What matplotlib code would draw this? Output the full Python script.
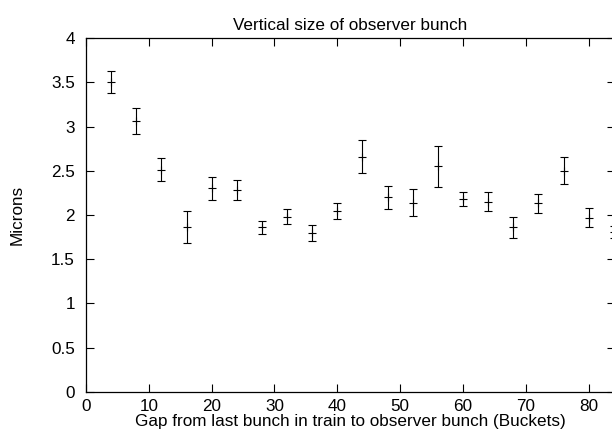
import matplotlib
matplotlib.use("Agg")
import matplotlib.pyplot as plt

# gap from last bunch (buckets) and vertical size (microns) with errors
gap = [4, 8, 12, 16, 20, 24, 28, 32, 36, 40, 44, 48, 52, 56, 60, 64, 68, 72, 76, 80, 84]
size = [3.50, 3.06, 2.51, 1.86, 2.30, 2.28, 1.86, 1.98, 1.80, 2.05, 2.66, 2.20, 2.14, 2.55,
        2.18, 2.15, 1.86, 2.13, 2.50, 1.97, 1.81]
err = [0.125, 0.145, 0.13, 0.18, 0.13, 0.11, 0.075, 0.085, 0.09, 0.09, 0.185, 0.13, 0.15, 0.23,
       0.075, 0.11, 0.115, 0.105, 0.15, 0.11, 0.07]

plt.rcParams['font.family'] = ['Liberation Sans', 'DejaVu Sans']

fig = plt.figure(figsize=(6.12, 4.34), dpi=100)
ax = fig.add_axes([0.1405, 0.0968, 0.8645, 0.8156])

ax.errorbar(gap, size, yerr=err, fmt='+', color='black', markersize=6,
            markeredgewidth=0.8, elinewidth=0.8, capsize=2.6, capthick=0.8)

ax.set_xlim(0, 84.2)
ax.set_ylim(0, 4)
ax.set_xticks(range(0, 81, 10))
ax.set_yticks([0, 0.5, 1, 1.5, 2, 2.5, 3, 3.5, 4])
ax.set_yticklabels(['0', '0.5', '1', '1.5', '2', '2.5', '3', '3.5', '4'])

ax.tick_params(direction='in', length=5.5, width=0.8, top=True, right=True,
               labelsize=12.3)
ax.tick_params(axis='x', pad=5)
ax.tick_params(axis='y', pad=8)
for s in ax.spines.values():
    s.set_linewidth(0.9)

ax.set_title('Vertical size of observer bunch', fontsize=12.3, pad=6)
ax.set_xlabel('Gap from last bunch in train to observer bunch (Buckets)', fontsize=12.3, labelpad=0)
ax.set_ylabel('Microns', fontsize=12.3, labelpad=19)

fig.savefig('out.png', dpi=100)
